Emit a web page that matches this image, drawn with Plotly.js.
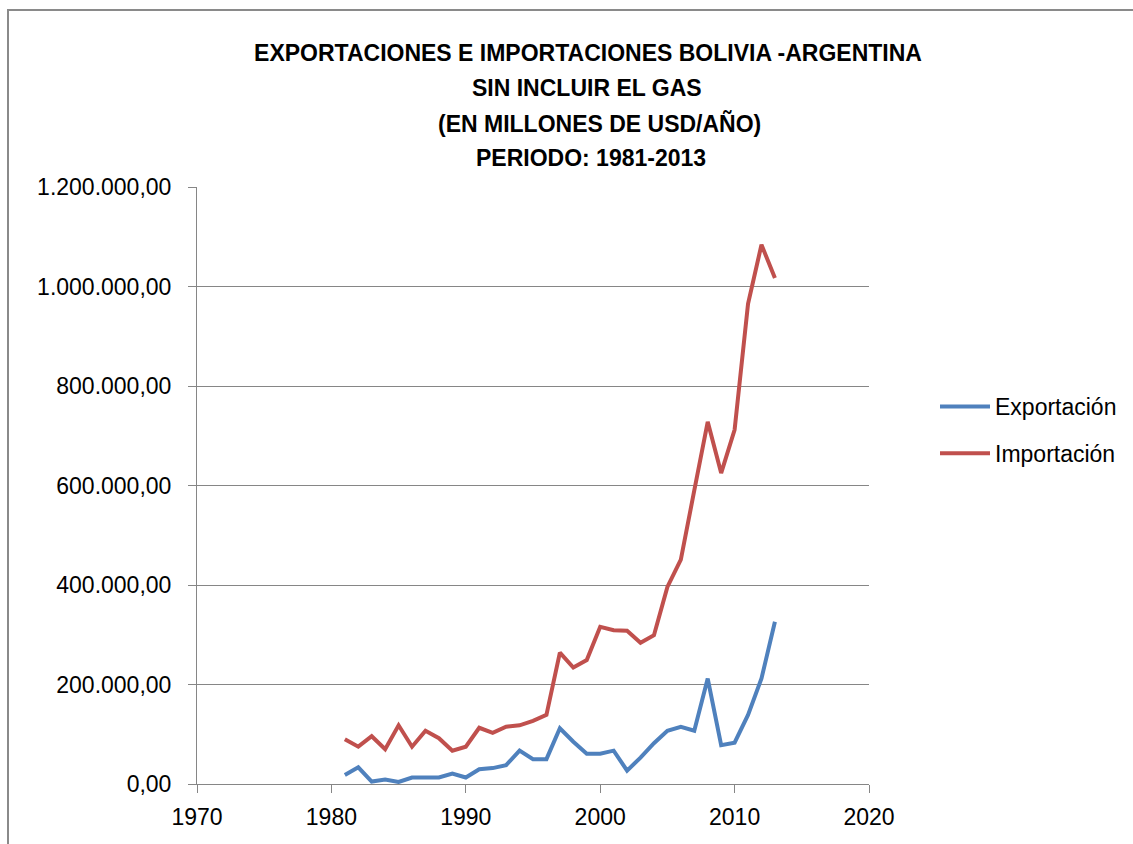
<!DOCTYPE html>
<html>
<head>
<meta charset="utf-8">
<script src="https://cdn.plot.ly/plotly-3.0.1.min.js"></script>
<style>
  html, body { margin: 0; padding: 0; background: #fff; overflow: hidden; }
  #wrap { position: relative; width: 1133px; height: 844px; }
  #chart { width: 1133px; height: 844px; }
  #frame { position: absolute; left: 7px; top: 9px; width: 1200px; height: 900px;
           border-left: 2px solid #8a8a8a; border-top: 2px solid #8a8a8a; pointer-events: none; }
</style>
</head>
<body>
<div id="wrap">
  <div id="chart"></div>
  <div id="frame"></div>
</div>
<script>
const years = [1981,1982,1983,1984,1985,1986,1987,1988,1989,1990,
               1991,1992,1993,1994,1995,1996,1997,1998,1999,2000,
               2001,2002,2003,2004,2005,2006,2007,2008,2009,2010,
               2011,2012,2013];
const exportacion = [18000,33500,5000,9000,4000,13000,13000,13000,21000,13000,
                     29500,32000,38000,67000,50000,50000,112000,85000,61000,61000,
                     67000,27000,53000,82000,107000,115000,107000,212000,78000,83000,
                     139000,212000,326000];
const importacion = [90000,75000,96000,70000,118000,75000,107000,92000,67000,75000,
                     113000,103000,115000,118000,127000,139000,264000,234000,249000,316000,
                     309000,308000,284000,299000,396000,451000,590000,728000,625000,712000,
                     965000,1084000,1017000];
const seriesNames = ['Exportación', 'Importación'];
const titleLines = [
  'EXPORTACIONES E IMPORTACIONES BOLIVIA -ARGENTINA',
  'SIN INCLUIR EL GAS',
  '(EN MILLONES DE USD/AÑO)',
  'PERIODO: 1981-2013'
];

const FONT = 'Liberation Sans, Arial, sans-serif';
const GRID = '#868686';

const traces = [
  { x: years, y: exportacion, name: seriesNames[0], type: 'scatter', mode: 'lines',
    legendgroup: 'a', line: { color: '#4F81BD', width: 4 } },
  { x: years, y: importacion, name: seriesNames[1], type: 'scatter', mode: 'lines',
    legendgroup: 'b', line: { color: '#C0504D', width: 4 } }
];

const layout = {
  width: 1133, height: 844,
  margin: { l: 197, r: 263, t: 187, b: 60 },
  paper_bgcolor: '#fff', plot_bgcolor: '#fff',
  separators: ',.',
  font: { family: FONT, size: 23, color: '#000' },
  title: {
    text: '<b>' + titleLines[0] + '</b>',
    font: { family: FONT, size: 23, color: '#000' },
    x: 588 / 1133, xanchor: 'center', xref: 'container',
    y: 1 - 53 / 844, yanchor: 'middle', yref: 'container'
  },
  annotations: [
    { text: '<b>' + titleLines[1] + '</b>', xref: 'paper', yref: 'paper',
      x: (588 - 197) / 597 * 597 / 673, y: (784 - 88) / 597, xanchor: 'center', yanchor: 'middle',
      showarrow: false, font: { family: FONT, size: 23, color: '#000' } },
    { text: '<b>' + titleLines[2] + '</b>', xref: 'paper', yref: 'paper',
      x: (600 - 197) / 673, y: (784 - 123) / 597, xanchor: 'center', yanchor: 'middle',
      showarrow: false, font: { family: FONT, size: 23, color: '#000' } },
    { text: '<b>' + titleLines[3] + '</b>', xref: 'paper', yref: 'paper',
      x: (592 - 197) / 673, y: (784 - 158) / 597, xanchor: 'center', yanchor: 'middle',
      showarrow: false, font: { family: FONT, size: 23, color: '#000' } }
  ],
  xaxis: {
    range: [1970, 2020], dtick: 10, tick0: 1970,
    showgrid: false, zeroline: false,
    showline: true, linecolor: GRID, linewidth: 1,
    ticks: 'outside', ticklen: 8, tickcolor: GRID, tickwidth: 1,
    ticklabelstandoff: 4,
    tickfont: { family: FONT, size: 23, color: '#000' }
  },
  yaxis: {
    range: [0, 1200000], dtick: 200000, tick0: 0,
    tickformat: ',.2f',
    showgrid: true, gridcolor: GRID, gridwidth: 1,
    zeroline: false,
    showline: true, linecolor: GRID, linewidth: 1,
    ticks: 'outside', ticklen: 8, tickcolor: GRID, tickwidth: 1,
    ticklabelstandoff: 12,
    tickfont: { family: FONT, size: 23, color: '#000' }
  },
  showlegend: true,
  legend: {
    x: (935 - 197) / 673, xanchor: 'left', xref: 'paper',
    y: (784 - 430) / 597, yanchor: 'middle', yref: 'paper',
    font: { family: FONT, size: 23, color: '#000' },
    traceorder: 'grouped', tracegroupgap: 14,
    itemwidth: 50,
    bgcolor: 'rgba(0,0,0,0)', borderwidth: 0
  }
};

Plotly.newPlot('chart', traces, layout, { displayModeBar: false, staticPlot: true });
</script>
</body>
</html>
